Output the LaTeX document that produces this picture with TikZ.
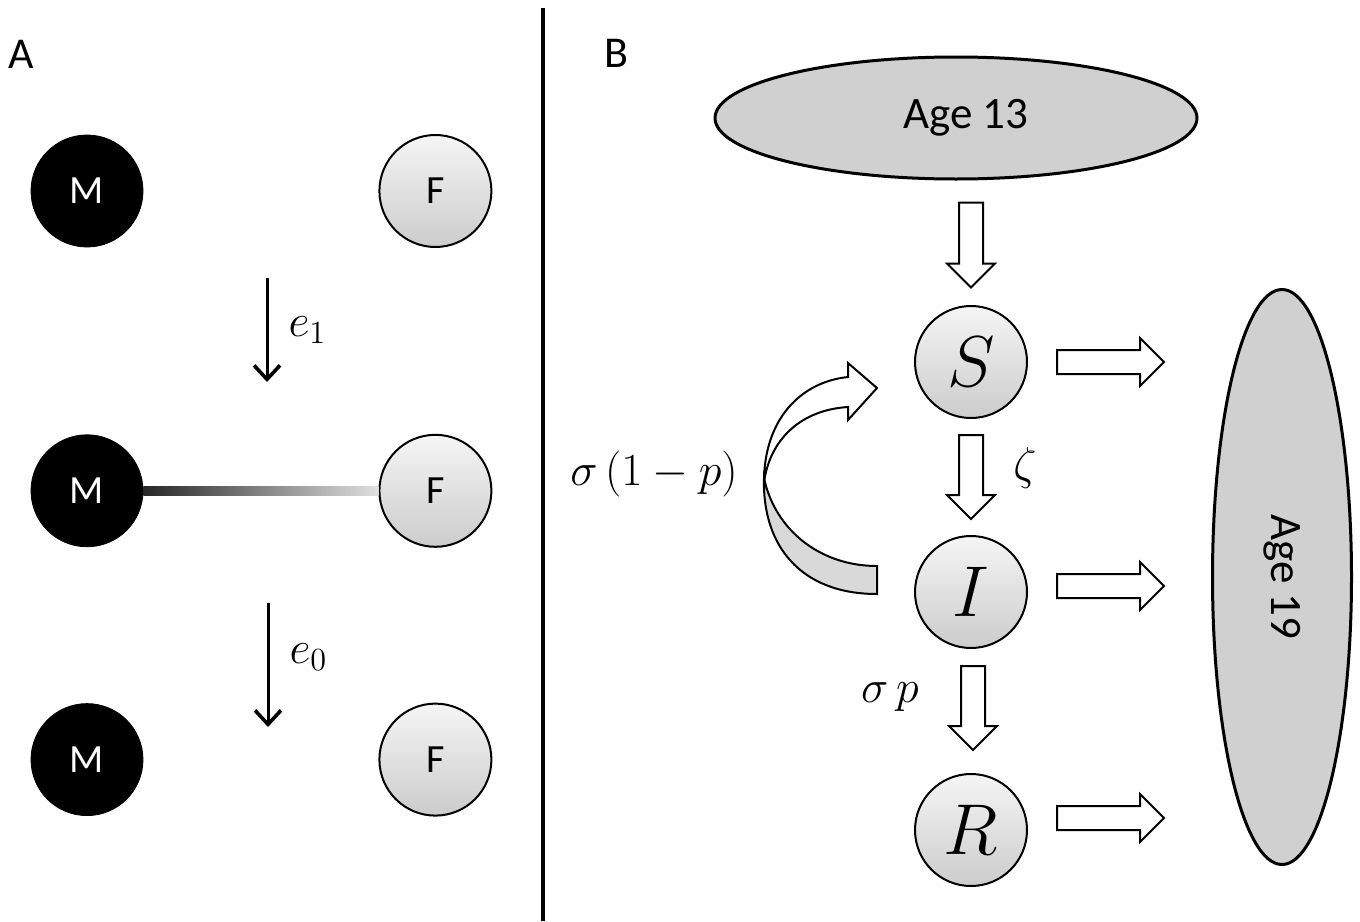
\RequirePackage{fix-cm}
\documentclass[tikz,border=0pt]{standalone}
\usepackage{amsmath,amssymb}
\usepackage{fontspec}
\newfontfamily\calib[Numbers=Lining]{Carlito}
\usetikzlibrary{shapes.geometric,arrows.meta,calc,positioning}
\definecolor{agegray}{RGB}{208,208,208}

\tikzset{
  fatarrow/.pic={\draw[blockline] (0,-12) -- (#1-24,-12) -- (#1-24,-24) -- (#1,0)
      -- (#1-24,24) -- (#1-24,12) -- (0,12) -- cycle;}
}

\begin{document}
\begin{tikzpicture}[x=0.5pt,y=-0.5pt,
male/.style={circle,fill=black,draw=black,minimum size=56pt,inner sep=0pt,text=white,font=\calib\fontsize{20}{22}\selectfont},
female/.style={circle,draw=black,line width=1pt,top color=gray!8,bottom color=gray!40,minimum size=56pt,inner sep=0pt,font=\calib\fontsize{20}{22}\selectfont},
state/.style={circle,draw=black,line width=1pt,top color=gray!8,bottom color=gray!40,minimum size=56pt,inner sep=0pt,font=\fontsize{36}{40}\selectfont},
agebox/.style={ellipse,draw=black,line width=1.5pt,fill=agegray,inner sep=0pt,font=\calib\fontsize{22.5}{26}\selectfont},
panel/.style={font=\calib\fontsize{22}{24}\selectfont,inner sep=0pt},
lbl/.style={font=\fontsize{23}{27}\selectfont,inner sep=1pt},
thinarrow/.style={line width=1.5pt,-{Straight Barb[length=7pt,width=13pt,line width=1.8pt]}},
blockline/.style={draw=black,line width=1pt,fill=white},
divider/.style={line width=2pt}]

\useasboundingbox (0,0) rectangle (1360,921);

% panel A
\node [panel] (labA) at (21,54) {A};
\node [male] (M1) at (87,191) {M};
\node [female, right = 117.5pt of M1] (F1) {F};
\node [male, below = 93.5pt of M1] (M2) {M};
\node [female, right = 117.5pt of M2] (F2) {F};
\node [male, below = 78pt of M2] (M3) {M};
\node [female, right = 117.5pt of M3] (F3) {F};

\shade [left color=black!85, right color=black!12] ([yshift=-2.25pt]M2.east) rectangle ([yshift=2.25pt]F2.west);

\coordinate (e1top) at (267,278);
\coordinate (e1bot) at (267,382);
\coordinate (e0top) at (268,603);
\coordinate (e0bot) at (268,727);
\draw [thinarrow] (e1top) -- node [lbl, right = 9pt] (e1) {$e_1$} (e1bot);
\draw [thinarrow] (e0top) -- node [lbl, right = 9pt, yshift=4pt] (e0) {$e_0$} (e0bot);

\draw [divider] (543,8) -- (543,921);

% panel B
\node [panel] (labB) at (616,53) {B};
\node [agebox, minimum width=241pt, minimum height=61pt] (A13) at (956,118) {\hspace*{10pt}Age 13};
\node [agebox, minimum width=287.5pt, minimum height=69.5pt, rotate=-90] (A19) at (1282,577) {Age 19};

\node [state] (S) at (971,362) {$S$};
\node [state, below = 58pt of S] (I) {$I$};
\node [state, below = 62pt of I] (R) {$R$};

\pic [rotate=-90] at ($(S |- A13.south)+(0,22)$) {fatarrow=85};
\pic [rotate=-90] at ($(S.south)+(0,16)$) {fatarrow=84};
\pic [rotate=-90] at ($(I.south)+(2,17)$) {fatarrow=84};
\pic at ($(S.east)+(29,0)$) {fatarrow=107};
\pic at ($(I.east)+(29,-6)$) {fatarrow=107};
\pic at ($(R.east)+(29,-12)$) {fatarrow=107};

\node [lbl] (zeta) at (1025,468) {$\zeta$};
\node [lbl] (sigp) at (890,697) {$\sigma\, p$};
\node [lbl] (sig1p) at (654,474) {$\sigma\,(1-p)$};

% curved arrow from I back to S
\draw [line width=1pt, fill=white] (764,482) .. controls (764,420) and (800,382) .. (848,377)
  -- (848,363) -- (877,388) -- (848,420) -- (848,407)
  .. controls (800,410) and (770,440) .. (764,482) -- cycle;
\draw [line width=1pt, fill=agegray!80] (764,478) .. controls (762,545) and (800,594) .. (877,594)
  -- (877,566) .. controls (820,566) and (775,530) .. (764,478) -- cycle;

\end{tikzpicture}
\end{document}
